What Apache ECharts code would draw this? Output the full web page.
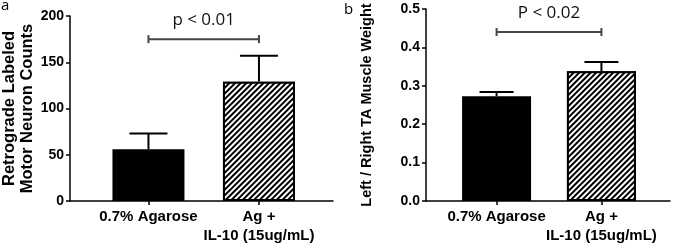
<!DOCTYPE html>
<html>
<head>
<meta charset="utf-8">
<script src="https://cdn.jsdelivr.net/npm/echarts@6/dist/echarts.min.js"></script>
<style>
html, body { margin: 0; padding: 0; background: #fff; }
#chart { width: 673px; height: 245px; }
</style>
</head>
<body>
<div id="chart"></div>
<script>
// groups, in x order (placed at 1 and 2 on a value axis)
const categories = ['0.7% Agarose', 'Ag +\nIL-10 (15ug/mL)'];
const groupPos = [1, 2];

// panel a: motor neuron counts
const countMeans = [56, 129];
const countErrTops = [73, 157];
const countTicks = [0, 50, 100, 150, 200];
const countP = 'p < 0.01';
const countBracket = 175;

// panel b: left/right TA muscle weight
const weightMeans = [0.273, 0.338];
const weightErrTops = [0.284, 0.362];
const weightTicks = [0, 0.1, 0.2, 0.3, 0.4, 0.5];
const weightP = 'P < 0.02';
const weightBracket = 0.44;

const boldFont = 'Liberation Sans, Arial, sans-serif';
const plainFont = 'Open Sans, sans-serif';

const hatch = {
    symbol: 'rect',
    symbolSize: 1,
    color: '#000',
    backgroundColor: '#fff',
    dashArrayX: [1, 0],
    dashArrayY: [1.5, 1.5],
    rotation: -Math.PI / 4
};

function barData(means) {
    return means.map(function (v, i) {
        const item = { value: [groupPos[i], v] };
        if (i === 1) {
            item.itemStyle = { color: '#fff', decal: hatch };
        }
        return item;
    });
}

function errData(means, tops) {
    return means.map(function (v, i) { return [groupPos[i], v, tops[i]]; });
}

function errorBar(capHalf) {
    return function (params, api) {
        const base = api.coord([api.value(0), api.value(1)]);
        const top = api.coord([api.value(0), api.value(2)]);
        const st = { stroke: '#000', lineWidth: 2 };
        return {
            type: 'group',
            children: [
                { type: 'line', shape: { x1: base[0], y1: base[1], x2: top[0], y2: top[1] }, style: st },
                { type: 'line', shape: { x1: top[0] - capHalf, y1: top[1], x2: top[0] + capHalf, y2: top[1] }, style: st }
            ]
        };
    };
}

function bracket(label) {
    return function (params, api) {
        const a = api.coord([api.value(0), api.value(2)]);
        const b = api.coord([api.value(1), api.value(2)]);
        const st = { stroke: '#444', lineWidth: 2 };
        return {
            type: 'group',
            children: [
                { type: 'line', shape: { x1: a[0], y1: a[1], x2: b[0], y2: b[1] }, style: st },
                { type: 'line', shape: { x1: a[0], y1: a[1] - 4, x2: a[0], y2: a[1] + 4 }, style: st },
                { type: 'line', shape: { x1: b[0], y1: b[1] - 4, x2: b[0], y2: b[1] + 4 }, style: st },
                {
                    type: 'text',
                    x: (a[0] + b[0]) / 2,
                    y: a[1] - 19,
                    style: {
                        text: label, fill: '#111', font: '17px ' + plainFont,
                        textAlign: 'center', textVerticalAlign: 'middle'
                    }
                }
            ]
        };
    };
}

function xAxisFor(gridIndex, min, max) {
    return {
        type: 'value',
        gridIndex: gridIndex,
        min: min,
        max: max,
        splitLine: { show: false },
        axisLine: { lineStyle: { color: '#000', width: 1.5 } },
        axisTick: { customValues: groupPos, length: 4, lineStyle: { color: '#000', width: 1.5 } },
        axisLabel: {
            customValues: groupPos,
            formatter: function (v) { return categories[Math.round(v) - 1]; },
            color: '#000',
            fontFamily: boldFont,
            fontWeight: 'bold',
            fontSize: 15,
            lineHeight: 19,
            margin: 6
        }
    };
}

function yAxisFor(gridIndex, ticks, name, nameGap, nameSize, digits) {
    return {
        type: 'value',
        gridIndex: gridIndex,
        min: ticks[0],
        max: ticks[ticks.length - 1],
        interval: ticks[1] - ticks[0],
        splitLine: { show: false },
        axisLine: { show: true, lineStyle: { color: '#000', width: 1.5 } },
        axisTick: { show: true, length: 4, lineStyle: { color: '#000', width: 1.5 } },
        axisLabel: {
            color: '#000',
            fontFamily: boldFont,
            fontWeight: 'bold',
            fontSize: 14,
            margin: 6,
            formatter: function (v) { return v.toFixed(digits); }
        },
        name: name,
        nameLocation: 'middle',
        nameGap: nameGap,
        nameTextStyle: {
            color: '#000',
            fontFamily: boldFont,
            fontWeight: 'bold',
            fontSize: nameSize,
            lineHeight: nameSize + 1
        }
    };
}

const chart = echarts.init(document.getElementById('chart'));
chart.setOption({
    animation: false,
    backgroundColor: '#fff',
    graphic: [
        { type: 'text', left: 1, top: -2, style: { text: 'a', font: '15px ' + plainFont, fill: '#000' } },
        { type: 'text', left: 344, top: 2, style: { text: 'b', font: '15px ' + plainFont, fill: '#000' } }
    ],
    grid: [
        { left: 68, top: 16, width: 265, height: 187 },
        { left: 426, top: 9, width: 244, height: 193 }
    ],
    xAxis: [
        xAxisFor(0, 0.29, 2.67),
        xAxisFor(1, 0.327, 2.654)
    ],
    yAxis: [
        yAxisFor(0, countTicks, 'Retrograde Labeled\nMotor Neuron Counts', 34, 16.5, 0),
        yAxisFor(1, weightTicks, 'Left / Right TA Muscle Weight', 51, 14.5, 1)
    ],
    series: [
        {
            type: 'bar', xAxisIndex: 0, yAxisIndex: 0, barWidth: 72,
            itemStyle: { color: '#000', borderColor: '#000', borderWidth: 2 },
            data: barData(countMeans)
        },
        {
            type: 'custom', xAxisIndex: 0, yAxisIndex: 0, z: 5,
            renderItem: errorBar(19), data: errData(countMeans, countErrTops)
        },
        {
            type: 'custom', xAxisIndex: 0, yAxisIndex: 0, z: 5,
            renderItem: bracket(countP), data: [[1, 2, countBracket]]
        },
        {
            type: 'bar', xAxisIndex: 1, yAxisIndex: 1, barWidth: 69,
            itemStyle: { color: '#000', borderColor: '#000', borderWidth: 2 },
            data: barData(weightMeans)
        },
        {
            type: 'custom', xAxisIndex: 1, yAxisIndex: 1, z: 5,
            renderItem: errorBar(17), data: errData(weightMeans, weightErrTops)
        },
        {
            type: 'custom', xAxisIndex: 1, yAxisIndex: 1, z: 5,
            renderItem: bracket(weightP), data: [[1, 2, weightBracket]]
        }
    ]
});
window.addEventListener('resize', function () { chart.resize(); });
</script>
</body>
</html>
